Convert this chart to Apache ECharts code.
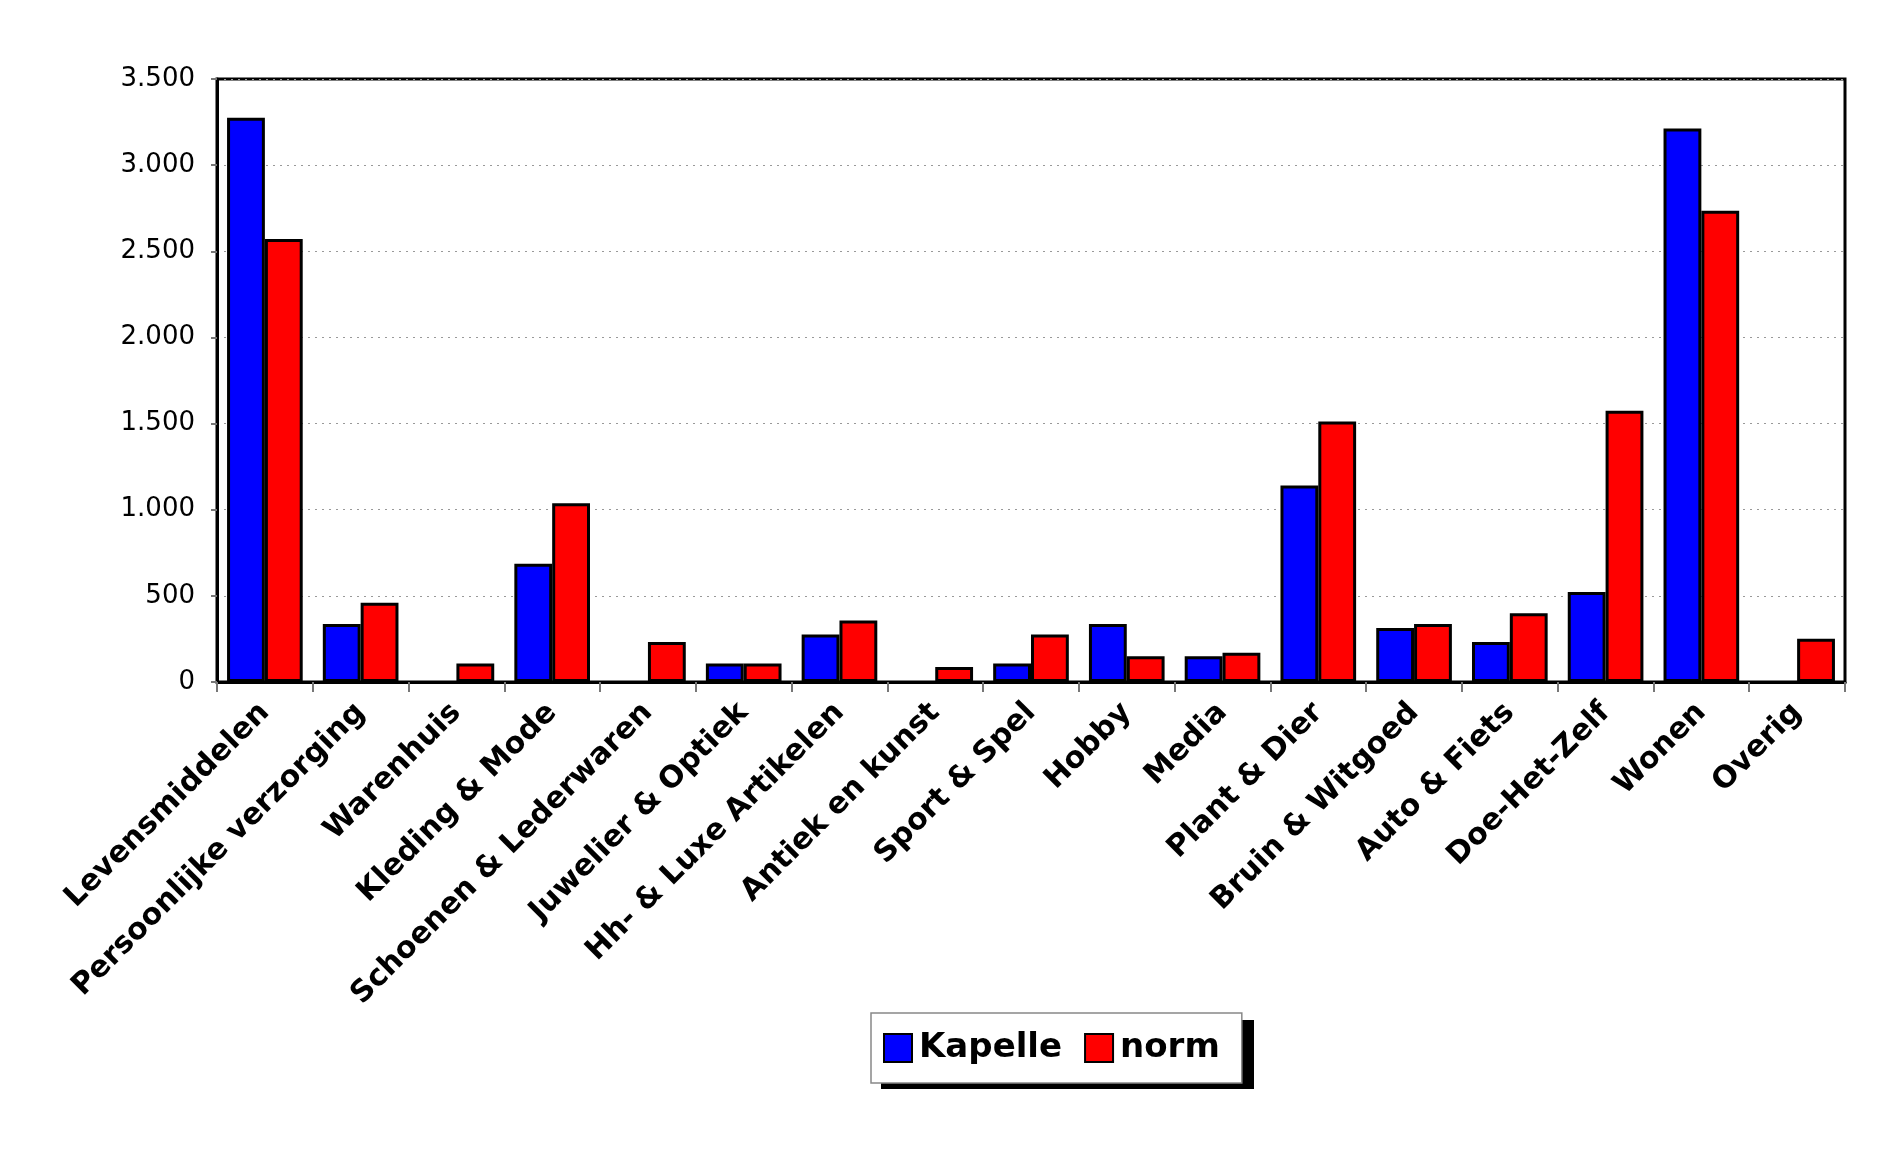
<!DOCTYPE html>
<html>
<head>
<meta charset="utf-8">
<script src="https://cdn.jsdelivr.net/npm/echarts@6/dist/echarts.min.js"></script>
<style>html,body{margin:0;padding:0;background:#fff}#c{width:1887px;height:1150px}</style>
</head>
<body>
<div id="c"></div>
<script>
const categories = ["Levensmiddelen","Persoonlijke verzorging","Warenhuis","Kleding & Mode","Schoenen & Lederwaren","Juwelier & Optiek","Hh- & Luxe Artikelen","Antiek en kunst","Sport & Spel","Hobby","Media","Plant & Dier","Bruin & Witgoed","Auto & Fiets","Doe-Het-Zelf","Wonen","Overig"];
const kapelle = [3275, 337, null, 687, null, 107, 275, null, 107, 337, 150, 1140, 313, 232, 522, 3213, null];
const norm = [2572, 460, 107, 1038, 232, 107, 357, 87, 275, 150, 170, 1512, 337, 399, 1575, 2736, 251];
const yTicks = { min: 0, max: 3500, interval: 500 };

function fmt(v){ return String(v).replace(/\B(?=(\d{3})+(?!\d))/g, '.'); }

const chart = echarts.init(document.getElementById('c'));
chart.setOption({
  animation: false,
  backgroundColor: '#fff',
  grid: { left: 217, right: 42, top: 79, bottom: 468, show: true, borderColor: '#000', borderWidth: 3, backgroundColor: 'transparent' },
  graphic: [
    { type: 'rect', z: -1, zlevel: 0, left: 881, top: 1020, shape: { width: 373, height: 69 }, style: { fill: '#000' }, silent: true }
  ],
  legend: {
    left: 871, top: 1013,
    orient: 'horizontal',
    icon: 'rect',
    itemWidth: 28, itemHeight: 28, itemGap: 22,
    padding: [18, 22, 18, 12],
    backgroundColor: '#fff',
    borderColor: '#888', borderWidth: 1.5, borderRadius: 0,
    z: 10,
    textStyle: { fontFamily: 'DejaVu Sans', fontWeight: 'bold', fontSize: 34, color: '#000', padding: [0, 0, 0, 2] },
    data: ['Kapelle', 'norm']
  },
  xAxis: {
    type: 'category',
    data: categories,
    boundaryGap: true,
    axisLine: { lineStyle: { color: '#000', width: 3 } },
    axisTick: { show: true, alignWithLabel: false, length: 10, lineStyle: { color: '#777', width: 2 } },
    axisLabel: { interval: 0, rotate: 45, margin: 26, fontFamily: 'DejaVu Sans', fontWeight: 'bold', fontSize: 30, color: '#000' },
    splitLine: { show: false }
  },
  yAxis: {
    type: 'value',
    min: yTicks.min, max: yTicks.max, interval: yTicks.interval,
    axisLine: { show: true, lineStyle: { color: '#000', width: 3 } },
    axisTick: { show: true, length: 6, lineStyle: { color: '#777', width: 2 } },
    axisLabel: { margin: 22, fontFamily: 'DejaVu Sans', fontSize: 26, color: '#000', formatter: fmt },
    splitLine: { show: true, lineStyle: { color: '#999', type: [2, 5], width: 1.2 } }
  },
  series: [
    { name: 'Kapelle', type: 'bar', data: kapelle, barGap: '0%', barCategoryGap: '21%',
      itemStyle: { color: '#0000ff', borderColor: '#000', borderWidth: 3 } },
    { name: 'norm', type: 'bar', data: norm, barGap: '0%', barCategoryGap: '21%',
      itemStyle: { color: '#ff0000', borderColor: '#000', borderWidth: 3 } }
  ]
});
</script>
</body>
</html>
